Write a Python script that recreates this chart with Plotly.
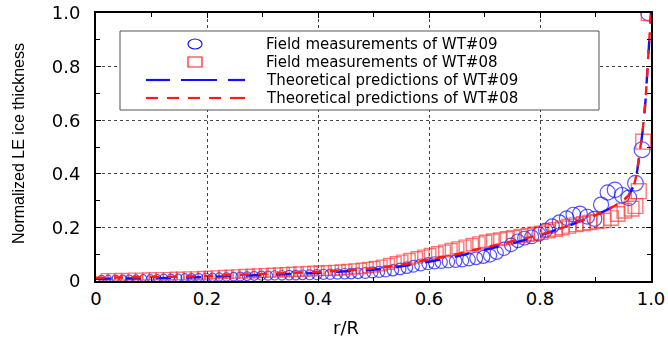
import plotly.graph_objects as go

# ---- data ----
x09 = [0.010, 0.022, 0.035, 0.048, 0.060, 0.072, 0.085, 0.098, 0.110, 0.122,
       0.135, 0.148, 0.160, 0.172, 0.185, 0.198, 0.210, 0.222, 0.235, 0.248,
       0.260, 0.272, 0.285, 0.298, 0.310, 0.322, 0.335, 0.348, 0.360, 0.372,
       0.385, 0.398, 0.410, 0.422, 0.435, 0.448, 0.460, 0.472, 0.485, 0.498,
       0.510, 0.522, 0.535, 0.548, 0.560, 0.572, 0.585, 0.598, 0.610, 0.622,
       0.635, 0.648, 0.660, 0.672, 0.685, 0.698, 0.710, 0.722, 0.735, 0.748,
       0.760, 0.772, 0.785, 0.798, 0.810, 0.822, 0.835, 0.848, 0.860, 0.872,
       0.885, 0.898, 0.910, 0.922, 0.935, 0.948, 0.960, 0.972, 0.984, 0.996]
y09 = [0.010, 0.010, 0.010, 0.010, 0.010, 0.010, 0.011, 0.011, 0.011, 0.012,
       0.012, 0.012, 0.013, 0.013, 0.013, 0.014, 0.014, 0.015, 0.015, 0.016,
       0.017, 0.018, 0.019, 0.020, 0.020, 0.021, 0.021, 0.022, 0.022, 0.023,
       0.023, 0.024, 0.025, 0.025, 0.026, 0.027, 0.028, 0.029, 0.030, 0.032,
       0.034, 0.036, 0.040, 0.045, 0.050, 0.055, 0.060, 0.065, 0.068, 0.070,
       0.072, 0.074, 0.076, 0.080, 0.085, 0.090, 0.095, 0.105, 0.120, 0.135,
       0.150, 0.160, 0.165, 0.175, 0.190, 0.205, 0.220, 0.235, 0.248, 0.252,
       0.240, 0.232, 0.285, 0.330, 0.340, 0.320, 0.310, 0.365, 0.490, 1.000]

x08 = [0.015, 0.028, 0.040, 0.052, 0.065, 0.078, 0.090, 0.102, 0.115, 0.128,
       0.140, 0.152, 0.165, 0.178, 0.190, 0.202, 0.215, 0.228, 0.240, 0.252,
       0.265, 0.278, 0.290, 0.302, 0.315, 0.328, 0.340, 0.352, 0.365, 0.378,
       0.390, 0.402, 0.415, 0.428, 0.440, 0.452, 0.465, 0.478, 0.490, 0.502,
       0.515, 0.528, 0.540, 0.552, 0.565, 0.578, 0.590, 0.602, 0.615, 0.628,
       0.640, 0.652, 0.665, 0.678, 0.690, 0.702, 0.715, 0.728, 0.740, 0.752,
       0.765, 0.778, 0.790, 0.802, 0.815, 0.828, 0.840, 0.852, 0.865, 0.878,
       0.890, 0.902, 0.915, 0.928, 0.940, 0.952, 0.965, 0.972, 0.978, 0.986,
       0.996]
y08 = [0.016, 0.016, 0.016, 0.016, 0.017, 0.017, 0.017, 0.018, 0.018, 0.018,
       0.019, 0.019, 0.020, 0.020, 0.021, 0.022, 0.023, 0.024, 0.025, 0.026,
       0.027, 0.028, 0.029, 0.030, 0.031, 0.032, 0.033, 0.034, 0.035, 0.036,
       0.037, 0.038, 0.039, 0.040, 0.041, 0.043, 0.045, 0.047, 0.050, 0.053,
       0.058, 0.064, 0.070, 0.076, 0.082, 0.088, 0.094, 0.100, 0.106, 0.112,
       0.118, 0.124, 0.130, 0.136, 0.142, 0.148, 0.152, 0.156, 0.160, 0.164,
       0.168, 0.172, 0.176, 0.180, 0.186, 0.192, 0.198, 0.204, 0.210, 0.214,
       0.218, 0.222, 0.226, 0.235, 0.250, 0.262, 0.270, 0.280, 0.335, 0.520,
       1.000]

xt = [0.0, 0.05, 0.1, 0.15, 0.2, 0.25, 0.3, 0.35, 0.4, 0.45, 0.5, 0.55, 0.6,
      0.65, 0.7, 0.75, 0.8, 0.85, 0.9, 0.93, 0.95, 0.96, 0.97, 0.975, 0.98,
      0.985, 0.99, 0.995, 1.0]
y09t = [0.008, 0.009, 0.010, 0.012, 0.015, 0.018, 0.022, 0.026, 0.030, 0.035,
        0.042, 0.055, 0.072, 0.092, 0.115, 0.140, 0.170, 0.205, 0.245, 0.275,
        0.300, 0.320, 0.360, 0.410, 0.480, 0.560, 0.670, 0.820, 1.000]
y08t = [0.012, 0.013, 0.014, 0.016, 0.019, 0.022, 0.026, 0.030, 0.034, 0.039,
        0.047, 0.060, 0.080, 0.100, 0.125, 0.148, 0.172, 0.205, 0.245, 0.275,
        0.300, 0.320, 0.360, 0.410, 0.480, 0.560, 0.670, 0.820, 1.000]

names = ["Field measurements of WT#09", "Field measurements of WT#08",
         "Theoretical predictions of WT#09", "Theoretical predictions of WT#08"]
tickvals = [0, 0.2, 0.4, 0.6, 0.8, 1.0]
ticktext = ["0", "0.2", "0.4", "0.6", "0.8", "1.0"]
x_title = "r/R"
y_title = "Normalized LE ice thickness"

BLUE = "#1010ff"
RED = "#ff1a1a"

# plot-area geometry (pixels)
W, H = 668, 344
L, R, T, B = 96, 17, 13, 63
PW, PH = W - L - R, H - T - B


def px(xp):
    return (xp - L) / PW


def py(yp):
    return (H - B - yp) / PH


def msize(xs, base, grow):
    return [base + grow * v for v in xs]


fig = go.Figure()
fig.add_trace(go.Scatter(
    x=x09, y=y09, mode="markers", name=names[0], showlegend=False,
    marker=dict(symbol="circle-open", size=msize(x09, 6, 10), color=BLUE,
                line=dict(width=1.2, color=BLUE))))
fig.add_trace(go.Scatter(
    x=x08, y=y08, mode="markers", name=names[1], showlegend=False,
    marker=dict(symbol="square-open", size=msize(x08, 6, 9), color=RED,
                line=dict(width=1.4, color=RED)),
    opacity=0.85))
fig.add_trace(go.Scatter(
    x=xt, y=y09t, mode="lines", name=names[2], showlegend=False,
    line=dict(color=BLUE, width=2.4, dash="longdash")))
fig.add_trace(go.Scatter(
    x=xt, y=y08t, mode="lines", name=names[3], showlegend=False,
    line=dict(color=RED, width=2.4, dash="dash")))

axis_common = dict(
    showline=True, linecolor="black", linewidth=2, mirror="ticks",
    ticks="inside", ticklen=5, tickcolor="black", tickwidth=1,
    minor=dict(ticks="inside", ticklen=4, dtick=0.1, tickcolor="black",
               showgrid=False),
    showgrid=True, gridcolor="#444", gridwidth=1, griddash="3px,3px",
    zeroline=False, automargin=False,
    tickvals=tickvals, ticktext=ticktext,
    tickfont=dict(family="DejaVu Sans", size=18, color="black"),
)

fig.update_xaxes(range=[0, 1.0], **axis_common)
fig.update_yaxes(range=[0, 1.0], ticklabelstandoff=10, **axis_common)

# axis titles
fig.add_annotation(text=x_title, xref="paper", yref="paper",
                   x=px(346), y=py(327), xanchor="center", yanchor="middle",
                   showarrow=False,
                   font=dict(family="DejaVu Sans", size=18, color="black"))
fig.add_annotation(text=y_title, xref="paper", yref="paper",
                   x=px(18), y=py(144), xanchor="center", yanchor="middle",
                   textangle=-90, showarrow=False,
                   font=dict(family="Liberation Sans", size=16, color="black"))

# ---- manual legend (box, samples, labels) ----
shapes = [dict(type="rect", xref="paper", yref="paper",
               x0=px(120), x1=px(599), y0=py(110), y1=py(31),
               fillcolor="white", line=dict(color="#555", width=1),
               layer="above")]
rows = [44, 62, 80, 98]
cx = 195
# circle sample
shapes.append(dict(type="circle", xref="paper", yref="paper",
                   x0=px(cx - 7), x1=px(cx + 7), y0=py(rows[0] + 5),
                   y1=py(rows[0] - 5), line=dict(color=BLUE, width=1.2),
                   layer="above"))
# square sample
shapes.append(dict(type="rect", xref="paper", yref="paper",
                   x0=px(cx - 7), x1=px(cx + 7), y0=py(rows[1] + 5),
                   y1=py(rows[1] - 5), line=dict(color=RED, width=1.2),
                   layer="above"))
# blue long-dash sample
for a, b in [(146, 170), (181, 217), (228, 245)]:
    shapes.append(dict(type="line", xref="paper", yref="paper",
                       x0=px(a), x1=px(b), y0=py(rows[2]), y1=py(rows[2]),
                       line=dict(color=BLUE, width=2.2), layer="above"))
# red dash sample
for a, b in [(146, 158), (167, 179), (188, 200), (209, 221), (230, 245)]:
    shapes.append(dict(type="line", xref="paper", yref="paper",
                       x0=px(a), x1=px(b), y0=py(rows[3]), y1=py(rows[3]),
                       line=dict(color=RED, width=2.2), layer="above"))
fig.update_layout(shapes=shapes)

for r, label in zip(rows, names):
    fig.add_annotation(text=label, xref="paper", yref="paper",
                       x=px(265), y=py(r), xanchor="left", yanchor="middle",
                       showarrow=False, borderpad=0,
                       font=dict(family="DejaVu Sans", size=15, color="black"))

fig.update_layout(
    width=W, height=H,
    margin=dict(l=L, r=R, t=T, b=B),
    plot_bgcolor="white", paper_bgcolor="white",
    showlegend=False,
)

fig.write_html("out.html")
